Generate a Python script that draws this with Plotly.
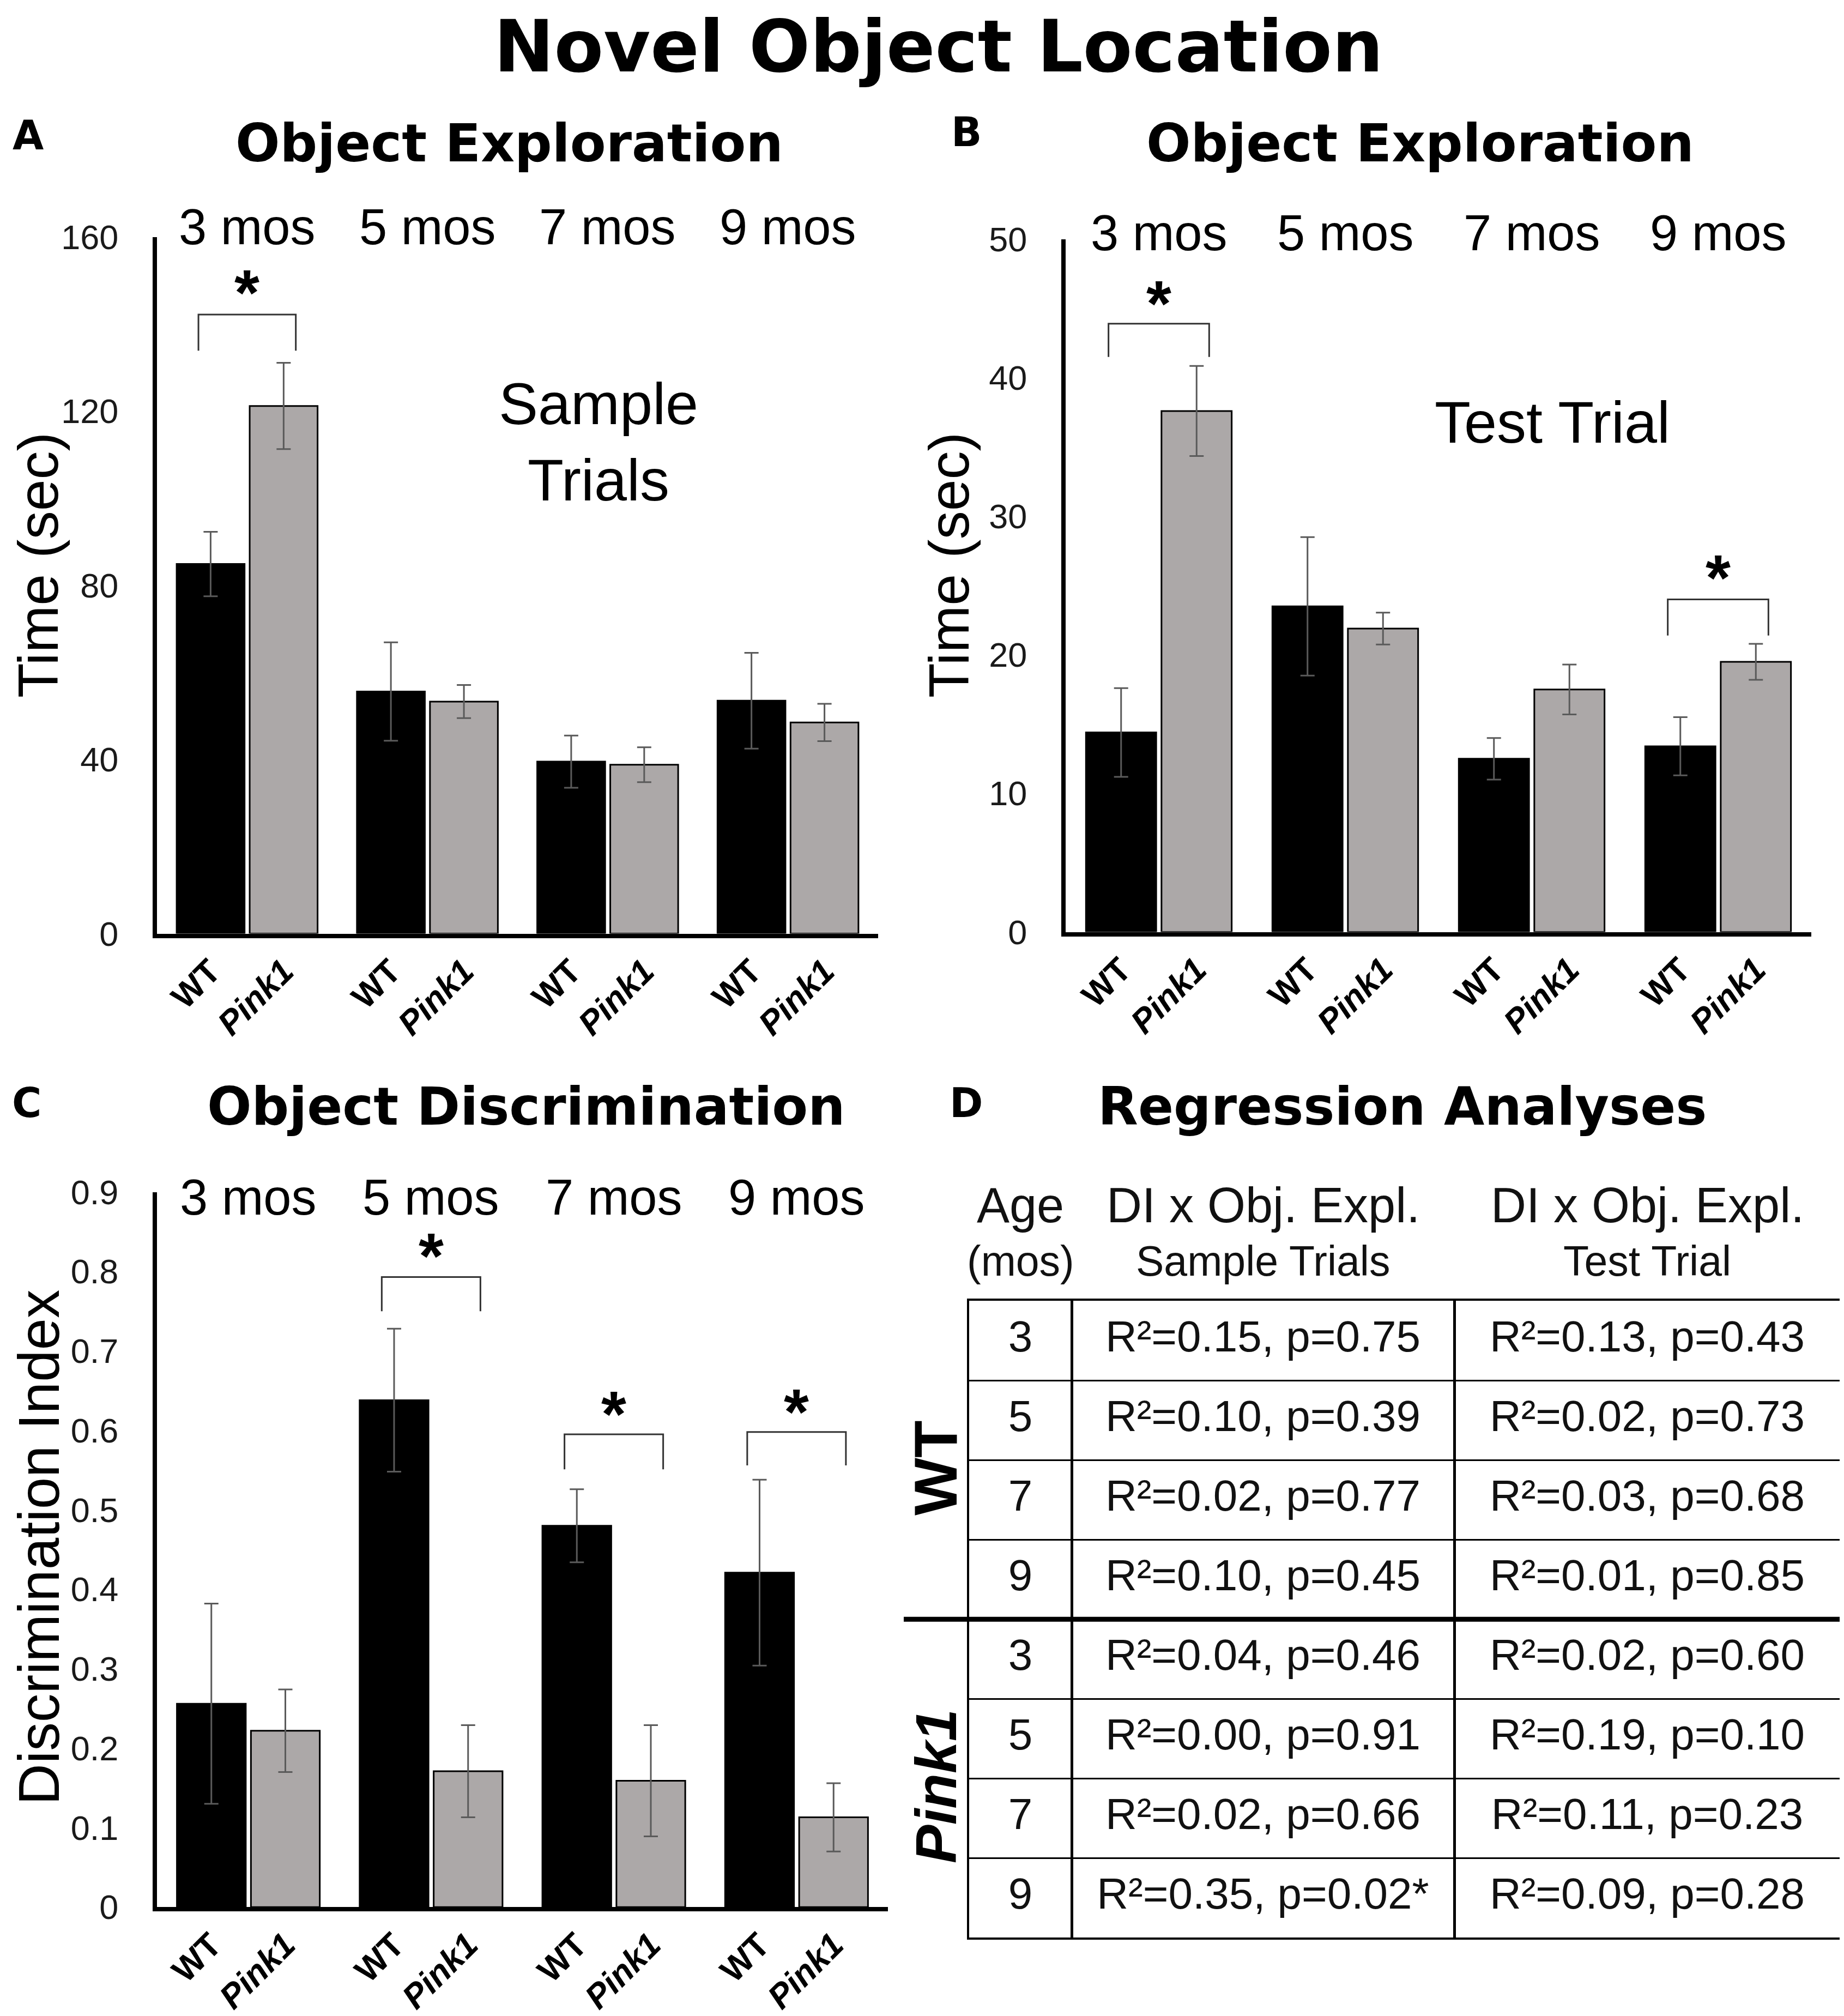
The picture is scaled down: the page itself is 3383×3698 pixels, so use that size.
import plotly.graph_objects as go

W, H = 3383, 3698

ages = ["3 mos", "5 mos", "7 mos", "9 mos"]
genotypes = ["WT", "Pink1"]

# A: object exploration, sample trials (sec)
a_wt = [84.9, 55.6, 39.5, 53.5]
a_wt_err = [7.4, 11.3, 6.0, 11.0]
a_pk = [121.2, 53.3, 38.8, 48.5]
a_pk_err = [9.9, 3.8, 4.0, 4.3]
a_ticks = [0, 40, 80, 120, 160]

# B: object exploration, test trial (sec)
b_wt = [14.4, 23.5, 12.5, 13.4]
b_wt_err = [3.2, 5.0, 1.5, 2.1]
b_pk = [37.6, 21.9, 17.5, 19.5]
b_pk_err = [3.25, 1.15, 1.8, 1.3]
b_ticks = [0, 10, 20, 30, 40, 50]

# C: discrimination index
c_wt = [0.256, 0.638, 0.480, 0.421]
c_wt_err = [0.126, 0.090, 0.046, 0.117]
c_pk = [0.222, 0.171, 0.159, 0.113]
c_pk_err = [0.052, 0.058, 0.070, 0.043]
c_ticks = [0, 0.1, 0.2, 0.3, 0.4, 0.5, 0.6, 0.7, 0.8, 0.9]

# significance brackets: (age group, bracket top, leg end, star)
a_sig = [(0, 142.2, 133.9, 149.0)]
b_sig = [(0, 43.9, 41.5, 45.9), (3, 24.0, 21.4, 26.1)]
c_sig = [(1, 0.793, 0.750, 0.829), (2, 0.595, 0.551, 0.630), (3, 0.598, 0.556, 0.633)]

# D: regression table
table_groups = ["WT", "Pink1"]
table_ages = [3, 5, 7, 9, 3, 5, 7, 9]
sample_r2 = [0.15, 0.10, 0.02, 0.10, 0.04, 0.00, 0.02, 0.35]
sample_p = [0.75, 0.39, 0.77, 0.45, 0.46, 0.91, 0.66, 0.02]
test_r2 = [0.13, 0.02, 0.03, 0.01, 0.02, 0.19, 0.11, 0.09]
test_p = [0.43, 0.73, 0.68, 0.85, 0.60, 0.10, 0.23, 0.28]
table_head = [("Age", "(mos)"), ("DI x Obj. Expl.", "Sample Trials"), ("DI x Obj. Expl.", "Test Trial")]

SANS = "Liberation Sans, Arial, sans-serif"
HEAVY = "DejaVu Sans, Liberation Sans, sans-serif"
NARROW = "Liberation Sans Narrow, Liberation Sans, sans-serif"
GREY = "#aca8a8"
ERRC = "#5a5a5a"
BARGAP = 0.19
HALF = (1 - BARGAP) / 4

# the photographed page comes out a little squeezed vertically; compensate
Y_TOP, Y_SCALE = 42, 0.979


def px(x):
    return x / W


def py(y):
    return 1 - (y - Y_TOP) / Y_SCALE / H


fig = go.Figure()

panels = [
    dict(n="", wt=a_wt, wte=a_wt_err, pk=a_pk, pke=a_pk_err, ticks=a_ticks, sig=a_sig,
         xd=[px(280), px(1603)], yd=[py(1708), py(433)], title="Time (sec)", tsize=104,
         tpos=(62, 1034), ageshift=19),
    dict(n="2", wt=b_wt, wte=b_wt_err, pk=b_pk, pke=b_pk_err, ticks=b_ticks, sig=b_sig,
         xd=[px(1947), px(3315)], yd=[py(1705), py(437)], title="Time (sec)", tsize=104,
         tpos=(1733, 1034), ageshift=12),
    dict(n="3", wt=c_wt, wte=c_wt_err, pk=c_pk, pke=c_pk_err, ticks=c_ticks, sig=c_sig,
         xd=[px(280), px(1621)], yd=[py(3490), py(2181)], title="Discrimination Index", tsize=105,
         tpos=(64, 2832), ageshift=-9),
]

annotations = []
shapes = []
xpos = list(range(len(ages)))

for p in panels:
    xa, ya = "x" + p["n"], "y" + p["n"]
    for vals, errs, color in ((p["wt"], p["wte"], "black"), (p["pk"], p["pke"], GREY)):
        fig.add_trace(go.Bar(
            x=xpos, y=vals, xaxis=xa, yaxis=ya, showlegend=False,
            marker=dict(color=color, line=dict(color="black", width=3)),
            error_y=dict(type="data", array=errs, color=ERRC, thickness=3, width=13),
        ))

    tickvals, ticktext = [], []
    for i in xpos:
        tickvals += [i - HALF, i + HALF]
        ticktext += ["<b>%s</b>" % genotypes[0], "<b><i>%s</i></b>" % genotypes[1]]

    fig.layout["xaxis" + p["n"]] = dict(
        domain=p["xd"], anchor=ya, range=[-0.5, len(ages) - 0.5],
        showline=True, linecolor="black", linewidth=8, ticks="",
        tickvals=tickvals, ticktext=ticktext, tickangle=-45,
        tickfont=dict(family=SANS, size=62, color="black"),
        showgrid=False, zeroline=False,
    )
    top = p["ticks"][-1]
    fig.layout["yaxis" + p["n"]] = dict(
        domain=p["yd"], anchor=xa, range=[0, top],
        showline=True, linecolor="black", linewidth=8, ticks="",
        tickvals=p["ticks"], ticktext=[("%g" % t) for t in p["ticks"]],
        tickfont=dict(family=SANS, size=63, color="#1a1a1a"), ticklabelstandoff=50,
        showgrid=False, zeroline=False,
    )

    # y-axis title
    tx, ty = p["tpos"]
    annotations.append(dict(x=px(tx), y=py(ty), xref="paper", yref="paper", text=p["title"],
                            textangle=-90, showarrow=False, xanchor="center", yanchor="middle",
                            font=dict(family=SANS, size=p["tsize"], color="black")))

    for i, lab in enumerate(ages):
        annotations.append(dict(x=i, xref=xa, y=1, yref=ya + " domain", text=lab, showarrow=False,
                                xanchor="center", yanchor="middle", yshift=p["ageshift"],
                                font=dict(family=SANS, size=92, color="black")))

    for g, ytop, yleg, ystar in p["sig"]:
        shapes.append(dict(type="path", xref=xa, yref=ya,
                           path="M %f,%f L %f,%f L %f,%f L %f,%f" % (g - 0.27, yleg, g - 0.27, ytop,
                                                                     g + 0.27, ytop, g + 0.27, yleg),
                           line=dict(color="#333", width=3)))
        annotations.append(dict(x=g, xref=xa, y=ystar, yref=ya, text="<b>*</b>", showarrow=False,
                                xanchor="center", yanchor="middle", yshift=-14,
                                font=dict(family=SANS, size=118, color="black")))

# in-panel labels
annotations.append(dict(x=0.612, xref="x domain", y=0.706, yref="y domain", text="Sample<br>Trials",
                        showarrow=False, xanchor="center", yanchor="middle",
                        font=dict(family=SANS, size=108, color="black")))
annotations.append(dict(x=0.653, xref="x2 domain", y=0.736, yref="y2 domain", text="Test Trial",
                        showarrow=False, xanchor="center", yanchor="middle",
                        font=dict(family=SANS, size=108, color="black")))

# titles and panel letters
annotations.append(dict(x=px(1714), y=py(84), xref="paper", yref="paper", text="<b>Novel Object Location</b>",
                        showarrow=False, xanchor="center", yanchor="middle",
                        font=dict(family=HEAVY, size=132, color="black")))
for txt, cx, cy in (("Object Exploration", 927, 262), ("Object Exploration", 2597, 262),
                    ("Object Discrimination", 957, 2025), ("Regression Analyses", 2564, 2025)):
    annotations.append(dict(x=px(cx), y=py(cy), xref="paper", yref="paper", text="<b>%s</b>" % txt,
                            showarrow=False, xanchor="center", yanchor="middle",
                            font=dict(family=HEAVY, size=96, color="black")))
for txt, cx, cy in (("A", 43, 247), ("B", 1765, 241), ("C", 41, 2018), ("D", 1765, 2018)):
    annotations.append(dict(x=px(cx), y=py(cy), xref="paper", yref="paper", text="<b>%s</b>" % txt,
                            showarrow=False, xanchor="center", yanchor="middle",
                            font=dict(family=HEAVY, size=74, color="black")))

# regression table, drawn on its own pair of axes (grid lines = cell borders)
col_widths = [188, 702, 708]
edges = [sum(col_widths[:k]) for k in range(len(col_widths) + 1)]
centres = [(edges[k] + edges[k + 1]) / 2 for k in range(len(col_widths))]
rows = list(range(len(table_ages)))

col_age = [str(a) for a in table_ages]
col_sample = ["R²=%.2f, p=%.2f%s" % (r, pv, "*" if pv < 0.05 else "") for r, pv in zip(sample_r2, sample_p)]
col_test = ["R²=%.2f, p=%.2f%s" % (r, pv, "*" if pv < 0.05 else "") for r, pv in zip(test_r2, test_p)]

for k, col in enumerate((col_age, col_sample, col_test)):
    fig.add_trace(go.Scatter(x=[centres[k]] * len(col), y=rows, text=col, mode="text",
                             textposition="middle center", xaxis="x4", yaxis="y4", showlegend=False,
                             textfont=dict(family=SANS, size=80, color="#111"), hoverinfo="skip"))

fig.layout.xaxis4 = dict(domain=[px(1770), px(3368)], anchor="y4", range=[0, edges[-1]],
                         tickvals=edges[1:-1], showticklabels=False, ticks="",
                         showgrid=True, gridcolor="black", gridwidth=5, zeroline=False,
                         showline=True, mirror=True, linecolor="black", linewidth=4)
fig.layout.yaxis4 = dict(domain=[py(3546), py(2380)], anchor="x4", range=[len(rows) - 0.5, -0.5],
                         tickvals=[r + 0.5 for r in rows[:-1]], showticklabels=False, ticks="",
                         showgrid=True, gridcolor="black", gridwidth=3, zeroline=False,
                         showline=True, mirror=True, linecolor="black", linewidth=4)

for k, (l1, l2) in enumerate(table_head):
    annotations.append(dict(x=centres[k], xref="x4", y=1, yref="y4 domain", text=l1, showarrow=False,
                            xanchor="center", yanchor="middle", yshift=175,
                            font=dict(family=SANS, size=90, color="#111")))
    annotations.append(dict(x=centres[k], xref="x4", y=1, yref="y4 domain", text=l2, showarrow=False,
                            xanchor="center", yanchor="middle", yshift=73,
                            font=dict(family=SANS, size=77, color="#111")))

half = len(rows) // 2
shapes.append(dict(type="line", xref="paper", yref="y4", x0=px(1650), x1=px(3368),
                   y0=half - 0.5, y1=half - 0.5, line=dict(color="black", width=9)))
for k, grp in enumerate(table_groups):
    label = "<b>%s</b>" % grp if k == 0 else "<b><i>%s</i></b>" % grp
    annotations.append(dict(x=px(1709), y=k * half + (half - 1) / 2 + 0.1, xref="paper", yref="y4",
                            text=label, textangle=-90, showarrow=False, xanchor="center", yanchor="middle",
                            font=dict(family=NARROW, size=112 if k == 0 else 106, color="black")))

fig.update_layout(
    width=W, height=H, margin=dict(l=0, r=0, t=0, b=0),
    paper_bgcolor="white", plot_bgcolor="white",
    barmode="group", bargap=BARGAP, bargroupgap=0.07,
    annotations=annotations, shapes=shapes, showlegend=False,
)

fig.write_html("out.html")
